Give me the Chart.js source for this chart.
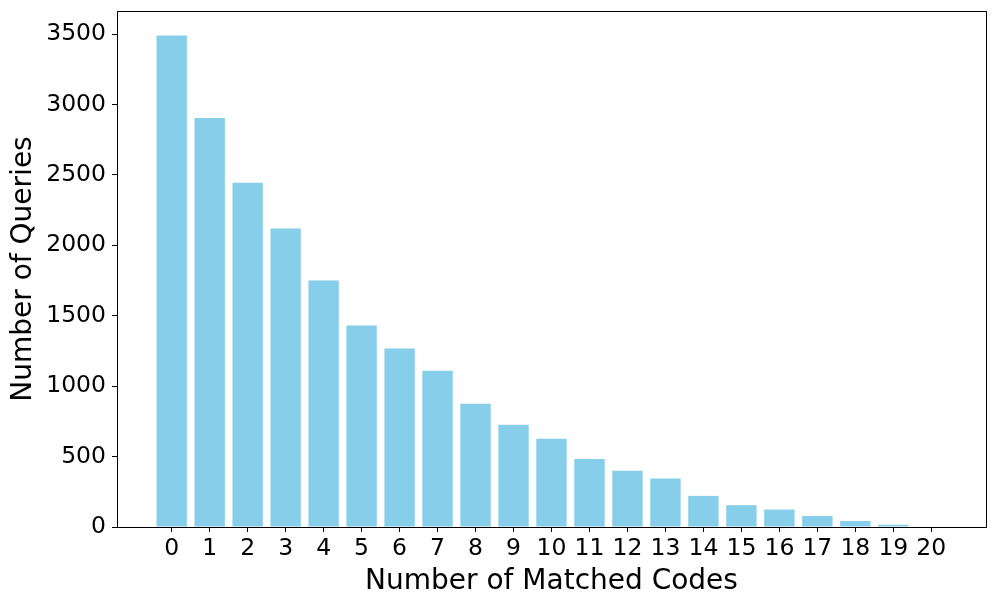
<!DOCTYPE html>
<html>
<head>
<meta charset="utf-8">
<script src="https://cdn.jsdelivr.net/npm/chart.js@4/dist/chart.umd.min.js"></script>
<style>
  html, body { margin: 0; padding: 0; background: #fff; }
  #wrap { width: 996px; height: 607px; position: relative; }
</style>
</head>
<body>
<div id="wrap"><canvas id="matchChart"></canvas></div>
<script>
const matchedCodes = [0, 1, 2, 3, 4, 5, 6, 7, 8, 9, 10, 11, 12, 13, 14, 15, 16, 17, 18, 19, 20];
const queryCounts = [3490, 2905, 2445, 2120, 1750, 1430, 1267, 1109, 875, 726, 627, 483, 400, 344, 221, 155, 124, 78, 43, 16, 0];
const yTicks = [0, 500, 1000, 1500, 2000, 2500, 3000, 3500];

const font = 'DejaVu Sans';

// matplotlib-style frame on all four sides
const framePlugin = {
  id: 'frame',
  afterDraw(chart) {
    const { ctx, chartArea: a } = chart;
    ctx.save();
    ctx.strokeStyle = '#000';
    ctx.lineWidth = 1;
    ctx.strokeRect(Math.round(a.left) + 0.5, Math.round(a.top) + 0.5,
      Math.round(a.right - a.left), Math.round(a.bottom - a.top));
    ctx.restore();
  }
};

const ctx = document.getElementById('matchChart');
new Chart(ctx, {
  type: 'bar',
  data: {
    datasets: [{
      data: matchedCodes.map((c, i) => ({ x: c, y: queryCounts[i] })),
      backgroundColor: '#87CEEB',
      borderWidth: 0,
      categoryPercentage: 1,
      barPercentage: 0.8
    }]
  },
  options: {
    responsive: true,
    maintainAspectRatio: false,
    animation: false,
    layout: { padding: { left: 0, right: 10, top: 11, bottom: 0 } },
    plugins: {
      legend: { display: false },
      tooltip: { enabled: false }
    },
    scales: {
      x: {
        type: 'linear',
        offset: false,
        min: -1.44,
        max: 21.44,
        afterBuildTicks: s => { s.ticks = matchedCodes.map(v => ({ value: v })); },
        afterFit: s => { s.height = 80; s.paddingLeft = 0; s.paddingRight = 0; },
        grid: { display: true, drawOnChartArea: false, offset: false, tickLength: 5, tickColor: '#000', tickWidth: 1 },
        border: { color: '#000', width: 1 },
        ticks: { color: '#000', font: { family: font, size: 23.5 }, padding: 3, autoSkip: false, maxRotation: 0, callback: v => String(v) },
        title: { display: true, text: 'Number of Matched Codes', color: '#000', font: { family: font, size: 28 }, padding: { top: 0, bottom: 8 } }
      },
      y: {
        min: 0,
        max: 3664,
        afterBuildTicks: s => { s.ticks = yTicks.map(v => ({ value: v })); },
        afterFit: s => { s.width = 117; s.paddingTop = 0; s.paddingBottom = 0; },
        grid: { display: true, drawOnChartArea: false, tickLength: 5, tickColor: '#000', tickWidth: 1 },
        border: { color: '#000', width: 1 },
        ticks: { color: '#000', font: { family: font, size: 23.5 }, padding: 6, callback: v => String(v) },
        title: { display: true, text: 'Number of Queries', color: '#000', font: { family: font, size: 28 }, padding: { top: 7, bottom: 0 } }
      }
    }
  },
  plugins: [framePlugin]
});
</script>
</body>
</html>
